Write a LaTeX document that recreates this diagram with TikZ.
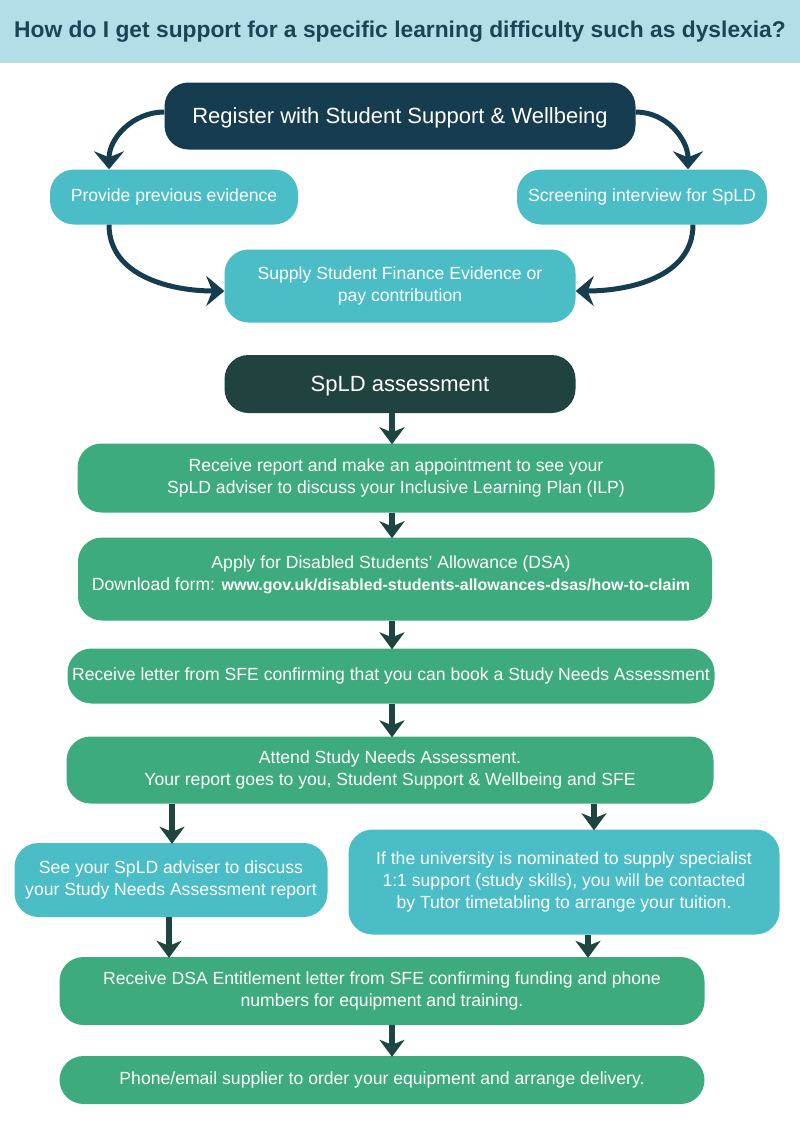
\documentclass[tikz,border=0pt]{standalone}
\usepackage{fontspec}
\setmainfont{Liberation Sans}
\usetikzlibrary{arrows.meta,calc}
\definecolor{band}{HTML}{B3DEE7}
\definecolor{titletext}{HTML}{1B4457}
\definecolor{navy}{HTML}{163C50}
\definecolor{cyanbox}{HTML}{4BBDC7}
\definecolor{darkgreen}{HTML}{21433F}
\definecolor{greenbox}{HTML}{3DAB7E}
\definecolor{arrowgreen}{HTML}{1F4540}
\tikzset{
  box/.style={rectangle, rounded corners=24pt, inner sep=0pt, text=white, align=center,
    font=\fontsize{17.6}{22}\selectfont},
  headbox/.style={box, font=\fontsize{22}{26}\selectfont, text depth=0pt},
  cyanstep/.style={box, fill=cyanbox},
  greenstep/.style={box, fill=greenbox},
  straightarrow/.style={draw=arrowgreen, line width=6pt,
    -{Stealth[width=25pt,length=17pt,inset=5pt]}, shorten >=-1pt},
  curvearrow/.style={draw=navy, line width=5pt,
    -{Stealth[width=30pt,length=18pt,inset=6pt]}},
}
\begin{document}
\begin{tikzpicture}[x=1pt,y=-1pt]
\useasboundingbox (0,0) rectangle (800,1132);
\fill[white] (0,0) rectangle (800,1132);
% title band
\fill[band] (0,0) rectangle (800,63);
\node[font=\fontsize{22.8}{26}\selectfont\bfseries, text=titletext, inner sep=0pt] (title) at (400,32)
  {How do I get support for a specific learning difficulty such as dyslexia?};

% columns for straight arrows
\coordinate (colM) at (392,0);
\coordinate (colL) at (172,0);
\coordinate (colR) at (594,0);
\coordinate (colL2) at (169,0);
\coordinate (colR2) at (588,0);

% top cycle
\node[headbox, fill=navy, minimum width=471pt, minimum height=67pt] (reg) at (400,116)
  {Register with Student Support \& Wellbeing};
\node[cyanstep, minimum width=248pt, minimum height=55pt] (prov) at (174,197)
  {Provide previous evidence};
\node[cyanstep, minimum width=250pt, minimum height=55pt] (scr) at (642,197)
  {Screening interview for SpLD};
\node[cyanstep, minimum width=351pt, minimum height=73pt] (sup) at (400,286)
  {Supply Student Finance Evidence or\\pay contribution};

\draw[curvearrow] ([yshift=4pt]reg.west) to[out=180,in=90] ([xshift=-65pt]prov.north);
\draw[curvearrow] ([yshift=4pt]reg.east) to[out=0,in=90] ([xshift=46pt]scr.north);
\draw[curvearrow] ([xshift=-65pt]prov.south) to[out=-90,in=180] ([yshift=-5pt]sup.west);
\draw[curvearrow] ([xshift=51pt]scr.south) to[out=-90,in=0] ([yshift=-5pt]sup.east);

% main flow
\node[headbox, fill=darkgreen, minimum width=351pt, minimum height=58pt] (spld) at (400,384)
  {SpLD assessment};
\node[greenstep, minimum width=637pt, minimum height=69pt] (rr) at (396,478)
  {Receive report and make an appointment to see your\\SpLD adviser to discuss your Inclusive Learning Plan (ILP)};
\node[greenstep, minimum width=634pt, minimum height=83pt] (dsa) at (395,579) {};
\node[box, text=white] (dsatext) at (391,575)
  {Apply for Disabled Students’ Allowance (DSA)\\Download form: {\fontsize{16}{22}\selectfont\bfseries www.gov.uk/disabled-students-allowances-dsas/how-to-claim}};
\node[greenstep, minimum width=647pt, minimum height=55pt] (let) at (391,676)
  {Receive letter from SFE confirming that you can book a Study Needs Assessment};
\node[greenstep, minimum width=647pt, minimum height=67pt] (att) at (390,770)
  {Attend Study Needs Assessment.\\Your report goes to you, Student Support \& Wellbeing and SFE};
\node[cyanstep, minimum width=313pt, minimum height=74pt] (see) at (171,880)
  {See your SpLD adviser to discuss\\your Study Needs Assessment report};
\node[cyanstep, minimum width=431pt, minimum height=105pt] (uni) at (564,882)
  {If the university is nominated to supply specialist\\1:1 support (study skills), you will be contacted\\by Tutor timetabling to arrange your tuition.};
\node[greenstep, minimum width=645pt, minimum height=68pt] (ent) at (382,991)
  {Receive DSA Entitlement letter from SFE confirming funding and phone\\numbers for equipment and training.};
\node[greenstep, minimum width=645pt, minimum height=48pt] (ph) at (382,1080)
  {Phone/email supplier to order your equipment and arrange delivery.};

\draw[straightarrow] (spld.south -| colM) -- (rr.north -| colM);
\draw[straightarrow] (rr.south -| colM) -- (dsa.north -| colM);
\draw[straightarrow] (dsa.south -| colM) -- (let.north -| colM);
\draw[straightarrow] (let.south -| colM) -- (att.north -| colM);
\draw[straightarrow] (att.south -| colL) -- (see.north -| colL);
\draw[straightarrow] (att.south -| colR) -- (uni.north -| colR);
\draw[straightarrow] (see.south -| colL2) -- (ent.north -| colL2);
\draw[straightarrow] (uni.south -| colR2) -- (ent.north -| colR2);
\draw[straightarrow] (ent.south -| colM) -- (ph.north -| colM);
\end{tikzpicture}
\end{document}
